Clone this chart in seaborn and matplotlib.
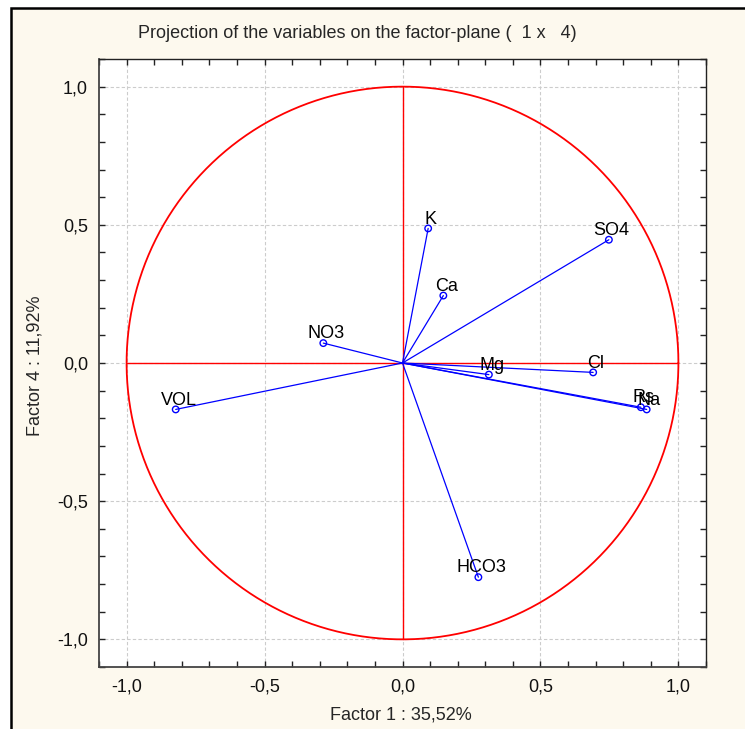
import numpy as np
import matplotlib
matplotlib.use("Agg")
import matplotlib.pyplot as plt
import seaborn as sns
from matplotlib.patches import Rectangle
from matplotlib.ticker import MultipleLocator, FuncFormatter

# Factor loadings (Factor 1 vs Factor 4)
variables = ["K", "SO4", "Ca", "NO3", "Mg", "Cl", "Rs", "Na", "VOL", "HCO3"]
factor1 = [0.093, 0.748, 0.148, -0.287, 0.313, 0.691, 0.864, 0.885, -0.822, 0.275]
factor4 = [0.487, 0.446, 0.244, 0.072, -0.042, -0.034, -0.160, -0.168, -0.168, -0.775]

title = "Projection of the variables on the factor-plane (  1 x   4)"
xlabel = "Factor 1 : 35,52%"
ylabel = "Factor 4 : 11,92%"

sns.set_style("white")
plt.rcParams["font.family"] = ["Liberation Sans", "DejaVu Sans"]

cream = "#fdf9ee"
fig = plt.figure(figsize=(7.45, 7.29), dpi=100)
fig.patch.set_facecolor("white")

# window-like frame with a cream background
fig.patches.append(Rectangle((11 / 745, -0.1), 1.2, 1 - 8 / 729 + 0.1,
                             transform=fig.transFigure, facecolor=cream,
                             edgecolor="black", linewidth=1.8, zorder=-5))

ax = fig.add_axes([99 / 745, 62 / 729, 607 / 745, 608 / 729])
ax.set_facecolor("white")

# unit circle and the axis cross in red
theta = np.linspace(0, 2 * np.pi, 400)
ax.plot(np.cos(theta), np.sin(theta), color="red", lw=1.3, zorder=2)
ax.plot([-1, 1], [0, 0], color="red", lw=1.0, zorder=2)
ax.plot([0, 0], [-1, 1], color="red", lw=1.0, zorder=2)

# vectors from the origin
for x, y in zip(factor1, factor4):
    ax.plot([0, x], [0, y], color="blue", lw=0.9, zorder=3)

sns.scatterplot(x=factor1, y=factor4, ax=ax, marker="o", s=22,
                facecolor="none", edgecolor="blue", linewidth=1.0, zorder=4)

for name, x, y in zip(variables, factor1, factor4):
    ax.annotate(name, (x, y), xytext=(2, 3.5), textcoords="offset points",
                ha="center", va="baseline", fontsize=13, color="black", zorder=5)

ax.set_xlim(-1.1, 1.1)
ax.set_ylim(-1.1, 1.1)
ax.xaxis.set_major_locator(MultipleLocator(0.5))
ax.yaxis.set_major_locator(MultipleLocator(0.5))
ax.xaxis.set_minor_locator(MultipleLocator(0.1))
ax.yaxis.set_minor_locator(MultipleLocator(0.1))
fmt = FuncFormatter(lambda v, _: f"{v:.1f}".replace(".", ","))
ax.xaxis.set_major_formatter(fmt)
ax.yaxis.set_major_formatter(fmt)

ax.tick_params(which="both", direction="in", length=4, width=1, color="#222222",
               top=True, right=True, bottom=True, left=True)
ax.tick_params(which="major", labelsize=13, pad=8, labelcolor="#111111")

ax.grid(which="major", linestyle=(0, (3, 2)), color="#cccccc", lw=0.8, zorder=1)
ax.set_axisbelow(True)

for side in ["left", "bottom"]:
    ax.spines[side].set_color("#444444")
    ax.spines[side].set_linewidth(1.3)
for side in ["top", "right"]:
    ax.spines[side].set_color("#222222")
    ax.spines[side].set_linewidth(1.0)

fig.text(357 / 745, 1 - 33 / 729, title, ha="center", va="center", fontsize=13)
fig.text(401 / 745, 1 - 715 / 729, xlabel, ha="center", va="center", fontsize=13)
fig.text(35 / 745, 1 - 366 / 729, ylabel, ha="center", va="center",
         rotation=90, fontsize=13)

fig.savefig("out.png", dpi=100, facecolor=fig.get_facecolor())
